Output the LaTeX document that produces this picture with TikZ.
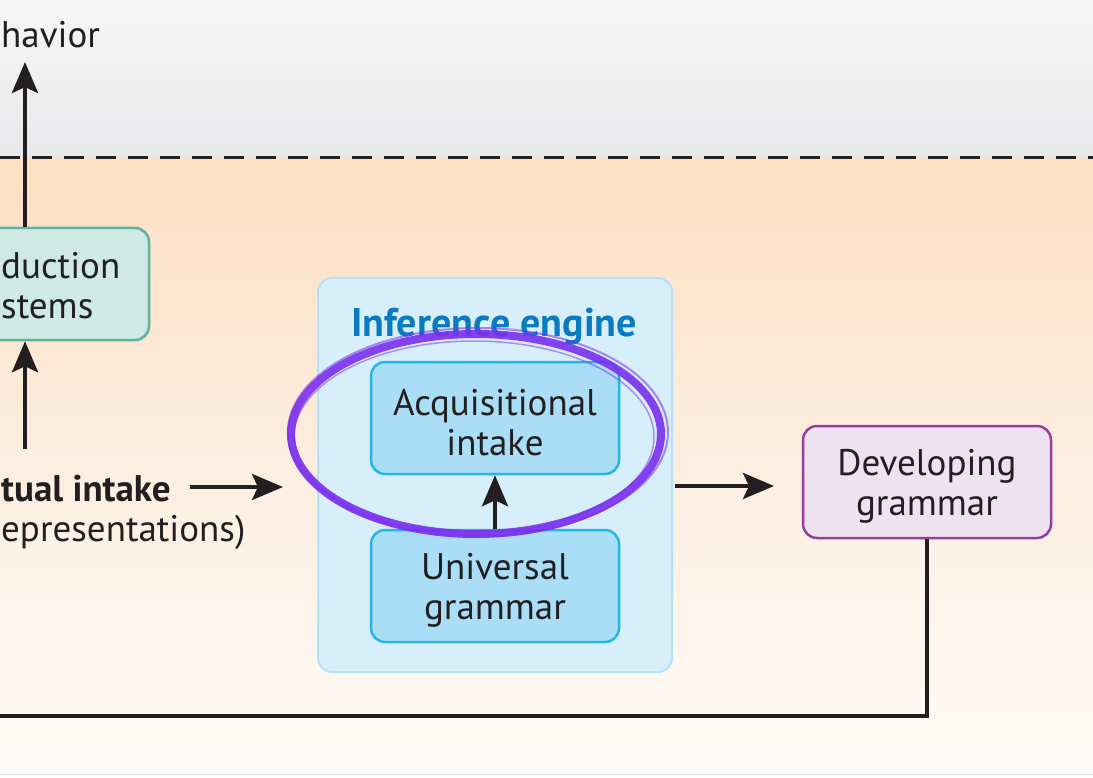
\documentclass[tikz,border=0pt]{standalone}
\usepackage{fontspec}
\setmainfont{PT Sans}
\usetikzlibrary{arrows.meta}
\definecolor{topA}{HTML}{F6F6F6}
\definecolor{topB}{HTML}{E7E8EA}
\definecolor{peachA}{HTML}{FDDFC2}
\definecolor{peachB}{HTML}{FDEEE0}
\definecolor{peachC}{HTML}{FEFBF8}
\definecolor{textc}{HTML}{231F20}
\definecolor{prodfill}{HTML}{CFEAE4}
\definecolor{prodline}{HTML}{5DB2A2}
\definecolor{engfill}{HTML}{D7EEFB}
\definecolor{engline}{HTML}{B3E2F8}
\definecolor{engtitle}{HTML}{0B7BC1}
\definecolor{innerfill}{HTML}{A9DEF6}
\definecolor{innerline}{HTML}{27B4E9}
\definecolor{dgfill}{HTML}{EDE3F0}
\definecolor{dgline}{HTML}{9A3C9D}
\definecolor{ellc}{HTML}{7B2FEE}
\newcommand{\dropline}{\rule{0pt}{35pt}}
\begin{document}
\begin{tikzpicture}[x=1pt,y=-1pt,
  txt/.style={font=\fontsize{37}{40}\selectfont, text=textc, inner sep=0pt},
  box/.style={draw, rounded corners=14pt, line width=2.5pt, minimum width=248pt,
    minimum height=112pt, align=center, inner sep=0pt,
    font=\fontsize{37}{40}\selectfont, text=textc},
  arr/.style={line width=4pt, draw=textc, -{Stealth[length=31pt,width=26pt,inset=6pt]}},
  wire/.style={line width=4pt, draw=textc}]
\useasboundingbox (0,0) rectangle (1093,778);
\clip (0,0) rectangle (1093,778);
% backgrounds
\shade[top color=topA, bottom color=topB] (0,0) rectangle (1093,159);
\shade[top color=peachA, bottom color=peachC, middle color=peachB] (0,159) rectangle (1093,774);
\fill[white] (0,774) rectangle (1093,778);
\draw[line width=1pt, draw=black!12] (0,774.5) -- (1093,774.5);
\draw[line width=3pt, draw=textc, dash pattern=on 20pt off 12pt] (0,158) -- (1093,158);

% texts on the left
\node[txt, anchor=base west] (beh) at (1,48) {havior};
\coordinate (behtip) at (25,62);
\node[box, fill=prodfill, draw=prodline] (prod) at (25,284) {};
\node[txt, anchor=base west] (prod1) at (1,279) {duction};
\node[txt, anchor=base west] (prod2) at (1,318) {stems};
\node[txt, anchor=base west, font=\fontsize{37}{40}\selectfont\bfseries] (perc1) at (1,501) {tual intake};
\node[txt, anchor=base west] (perc2) at (1,541) {epresentations)};
\coordinate (perctop) at (25,449);
\coordinate (p1) at (190,487);
\coordinate (p2) at (283,487);

% inference engine
\node[draw=engline, fill=engfill, line width=2pt, rounded corners=14pt,
  minimum width=354pt, minimum height=394pt] (eng) at (495,475) {};
\node[txt, text=engtitle, font=\fontsize{40}{44}\selectfont\bfseries, anchor=base] (engt) at (494,336) {Inference engine};
\node[box, fill=innerfill, draw=innerline] (acq) at (495,418) {\dropline Acquisitional\\intake};
\node[box, fill=innerfill, draw=innerline] (ug) at (495,586) {\dropline Universal\\grammar};

% developing grammar
\node[box, fill=dgfill, draw=dgline] (dg) at (927,482) {\dropline Developing\\grammar};
\coordinate (e1) at (675,486);
\coordinate (e2) at (774,486);
\coordinate (fb) at (0,716);

% connectors
\draw[arr] (prod.north) -- (behtip);
\draw[arr] (perctop) -- (prod.south);
\draw[arr] (p1) -- (p2);
\draw[arr] (ug.north) -- (acq.south);
\draw[arr] (e1) -- (e2);
\draw[wire, line join=miter] (dg.south) |- (fb);

% hand-drawn highlight ellipse
\draw[line width=8pt, draw=ellc, opacity=0.9] (476,434) ellipse [x radius=185, y radius=100];
\draw[line width=2pt, draw=ellc, opacity=0.55] (478,432) ellipse [x radius=190, y radius=104];
\draw[line width=1.5pt, draw=ellc, opacity=0.5] (474,437) ellipse [x radius=180, y radius=96];
\end{tikzpicture}
\end{document}
